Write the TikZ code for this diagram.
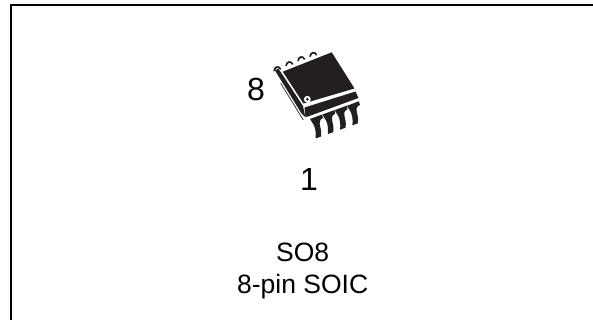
\documentclass[tikz,border=0pt]{standalone}
\usepackage{fontspec}
\setmainfont{Liberation Sans}
\definecolor{chip}{HTML}{231F20}
\tikzset{
  frameline/.style={draw=black,line width=2pt},
  lbl/.style={inner sep=0pt,anchor=base,font=\fontsize{26.5}{30}\selectfont,text=black},
  biglbl/.style={inner sep=0pt,anchor=base,font=\fontsize{32}{36}\selectfont,text=black},
  ink/.style={fill=chip,draw=none},
  toppin/.style={draw=chip,line width=1.7pt,line cap=round},
  botpin/.style={fill=chip,draw=none}
}
\begin{document}
\begin{tikzpicture}[x=1pt,y=-1pt]
\useasboundingbox (0,0) rectangle (593,320);
\draw[frameline] (593,5) -- (11,5) -- (11,320);
% top pins
\foreach \px/\py in {277.3/68.8, 289.3/63.8, 301.3/58.8, 313.3/54.5}{
  \draw[toppin] (\px-3.2,\py+1.8) .. controls (\px-2.5,\py-2.5) and (\px+1.5,\py-3) .. (\px+3.2,\py+0.3);
}
% side band
\fill[ink] (275,70.5) -- (278,68.5) -- (281,72.5) -- (303,106) -- (305.5,117.5) -- (301.5,113.5) -- cycle;
\draw[chip,line width=0.7pt] (280.7,83.3) -- (303.3,120);
% top face
\fill[ink] (282.7,71.7) -- (331.7,52.3) -- (354.5,88.5) -- (303.5,103.5) -- cycle;
% lower band
\fill[ink] (304.5,107.5) -- (355.5,91.5) -- (358.5,98) -- (308,116.5) -- (305.5,117) -- cycle;
% dot
\fill[white] (307.3,99.3) circle (3.4);
\fill[chip] (307.3,99.3) circle (1.5);
% bottom pins
\foreach \dx/\dy in {0/0, 12.3/-4.4, 24.6/-8.8, 36.9/-13.2}{
  \begin{scope}[shift={(\dx,\dy)}]
    \fill[botpin] (310,119) -- (322,114.5) -- (323,118) .. controls (319.5,119.5) and (319,122) .. (320.3,127)
      .. controls (321.3,131) and (321.5,134) .. (321,136.5) -- (315.5,138.5) .. controls (316,133) and (315.5,129) .. (314,125.5) .. controls (313,123) and (311.5,122) .. cycle;
  \end{scope}
}
\node[biglbl] (pineight) at (256,101) {8};
\node[biglbl] (pinone) at (309,190) {1};
\node[lbl] (pkg) at (302.7,261.7) {SO8};
\node[lbl] (desc) at (302.7,293.3) {8-pin SOIC};
\end{tikzpicture}
\end{document}
